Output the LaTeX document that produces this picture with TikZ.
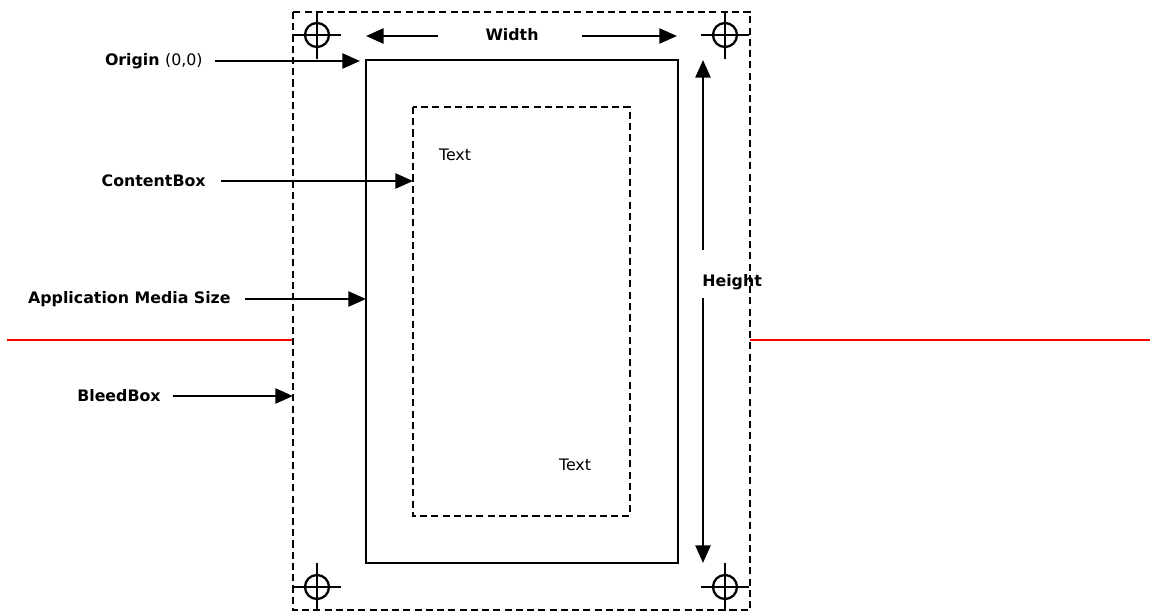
\documentclass[tikz,border=0pt]{standalone}
\usepackage{fontspec}
\setmainfont{DejaVu Sans}
\usepackage{xcolor}
\usetikzlibrary{positioning,calc,arrows.meta}

\tikzset{
    boxdash/.style={line width=1.3pt, dash pattern=on 4pt off 2.4pt},
    pointer/.style={line width=1.4pt, -{Triangle[length=10pt,width=8.5pt]}},
    lbl/.style={font=\fontsize{9}{11}\selectfont\bfseries, inner sep=0pt},
    txt/.style={font=\fontsize{9}{11}\selectfont, inner sep=0pt},
    cropmark/.style={line width=1.3pt}
}
\newcommand{\cropat}[1]{%
    \draw[cropmark] (#1) circle (12);
    \draw[cropmark] ($(#1)+(-24,0)$) -- ($(#1)+(24,0)$);
    \draw[cropmark] ($(#1)+(0,-24)$) -- ($(#1)+(0,24)$);
}

\begin{document}
\begin{tikzpicture}[x=0.02cm, y=-0.02cm]
    \useasboundingbox (0,0) rectangle (1150,613);
    % red line
    \draw[red, line width=1.2pt] (7,340) -- (293,340);
    \draw[red, line width=1.2pt] (750,340) -- (1150,340);
    % boxes
    \draw[boxdash, fill=white] (293,12) rectangle (750,610);
    \draw[line width=1.3pt] (366,60) rectangle (678,563);
    \draw[boxdash] (413,107) rectangle (630,516);
    % crop marks
    \cropat{317,35}
    \cropat{725,35}
    \cropat{317,587}
    \cropat{725,587}
    % sides
    \coordinate (origin) at (360,61);
    \coordinate (content) at (413,181);
    \coordinate (media) at (366,299);
    \coordinate (bleed) at (293,396);
    % labels
    \node[lbl, anchor=east] (originlbl) at (203,61) {Origin \textmd{(0,0)}};
    \node[lbl, anchor=east] (contentlbl) at (206,181) {ContentBox};
    \node[lbl, anchor=east] (medialbl) at (231,299) {Application Media Size};
    \node[lbl, anchor=east] (bleedlbl) at (161,396) {BleedBox};
    \draw[pointer] ($(originlbl.east)+(12,0)$) -- (originlbl.east -| origin);
    \draw[pointer] ($(contentlbl.east)+(15,0)$) -- (contentlbl.east -| content);
    \draw[pointer] ($(medialbl.east)+(14,0)$) -- (medialbl.east -| media);
    \draw[pointer] ($(bleedlbl.east)+(12,0)$) -- (bleedlbl.east -| bleed);
    % width
    \node[lbl] (widthlbl) at (512,35) {Width};
    \coordinate (wleft) at (366,36);
    \coordinate (wright) at (677,36);
    \draw[pointer] (438,36) -- (wleft);
    \draw[pointer] (582,36) -- (wright);
    % height
    \node[lbl, anchor=west] (heightlbl) at (702,282) {Height};
    \coordinate (htop) at (703,60);
    \coordinate (hbot) at (703,563);
    \draw[pointer] (703,250) -- (htop);
    \draw[pointer] (703,298) -- (hbot);
    % content text
    \node[txt] (texta) at (455,155) {Text};
    \node[txt] (textb) at (575,465) {Text};
\end{tikzpicture}
\end{document}
